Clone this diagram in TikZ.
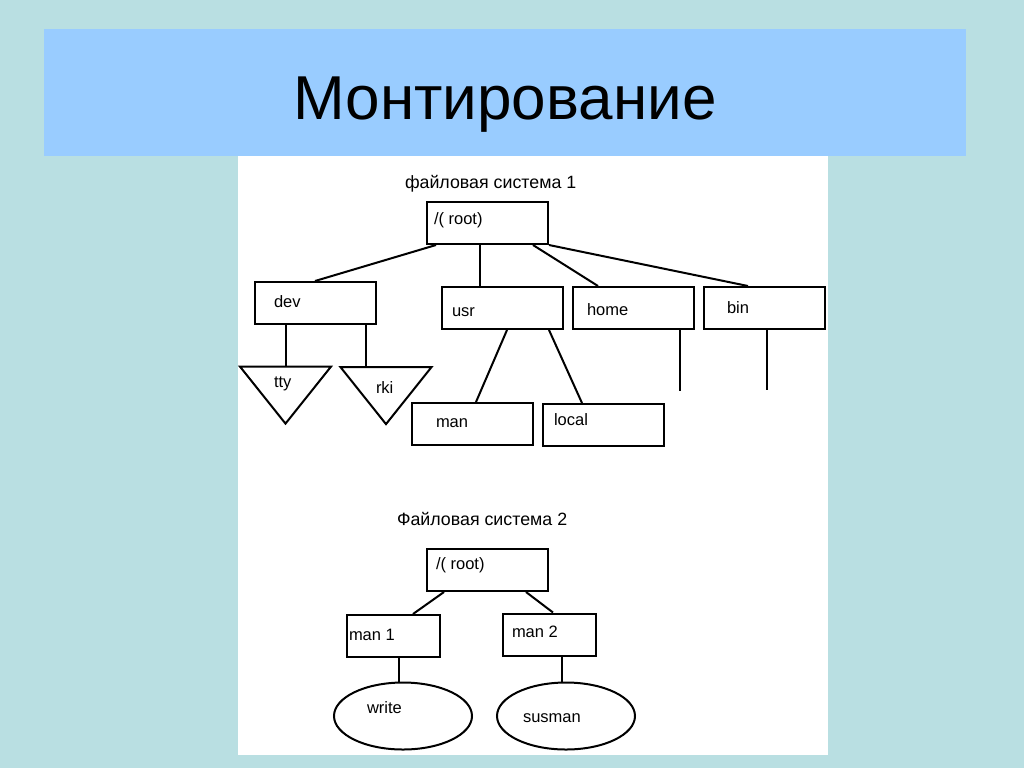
\documentclass[tikz,border=0pt]{standalone}
\usepackage{fontspec}
\setmainfont{Liberation Sans}
\usetikzlibrary{shapes.geometric}
\definecolor{slidebg}{HTML}{B9DFE2}
\definecolor{titleband}{HTML}{99CCFF}

\begin{document}
\begin{tikzpicture}[x=0.5pt, y=-0.5pt, line width=1pt,
		dirbox/.style={draw, rectangle, minimum width=60.5pt, minimum height=21pt, inner sep=0pt},
		smallbox/.style={dirbox, minimum width=46.5pt},
		leaf/.style={draw, isosceles triangle, isosceles triangle stretches, shape border rotate=-90,
			minimum width=45.5pt, minimum height=28.5pt, inner sep=0pt},
		file/.style={draw, ellipse, minimum width=69pt, minimum height=33.5pt, inner sep=0pt},
		tag/.style={anchor=base west, inner sep=0pt, font=\fontsize{8.25}{10}\selectfont},
		heading/.style={tag, font=\fontsize{8.9}{11}\selectfont}]
		% slide
		\fill[slidebg] (0,0) rectangle (1024,768);
		\fill[titleband] (44,29) rectangle (966,156);
		\fill[white] (238,156) rectangle (828,755);
		\node[anchor=base, inner sep=0pt, font=\fontsize{31}{36}\selectfont] (title) at (505,119) {Монтирование};
		% file system 1
		\node[heading] (fs1) at (404,188) {файловая система 1};
		\node[dirbox] (root1) at (487.5,223) {};
		\node[dirbox] (dev) at (315,303) {};
		\node[dirbox] (usr) at (502,308) {};
		\node[dirbox] (home) at (633.5,308) {};
		\node[dirbox] (bin) at (764,308) {};
		\node[leaf] (tty) at (285.5,388.5) {};
		\node[leaf] (rki) at (386,389) {};
		\node[dirbox] (man) at (472,424) {};
		\node[dirbox] (local) at (603.5,425) {};
		\coordinate (homeend) at (680,391);
		\coordinate (binend) at (767,390);
		\begin{scope}[every node/.style={tag}]
			\node at (433,224) {/( root)};
			\node at (273,307) {dev};
			\node at (451,316) {usr};
			\node at (586,315) {home};
			\node at (726,313) {bin};
			\node at (273,387) {tty};
			\node at (375,393) {rki};
			\node at (435,427) {man};
			\node at (553,425) {local};
		\end{scope}
		% file system 2
		\node[heading] (fs2) at (396,525) {Файловая система 2};
		\node[dirbox] (root2) at (487.5,570) {};
		\node[smallbox] (man1) at (393.5,636) {};
		\node[smallbox] (man2) at (549.5,634.5) {};
		\node[file] (write) at (403,716) {};
		\node[file] (susman) at (566,716) {};
		\begin{scope}[every node/.style={tag}]
			\node at (435,569) {/( root)};
			\node at (348,640) {man 1};
			\node at (511,637) {man 2};
			\node at (366,713) {write};
			\node at (522,722) {susman};
		\end{scope}
		% links
		\begin{scope}[every path/.style={line width=1pt}]
			\path ([xshift=5pt]root1.south west) edge (dev.north);
			\path ([xshift=-3.75pt]root1.south) edge ([xshift=-11pt]usr.north);
			\path ([xshift=22.75pt]root1.south) edge ([xshift=-17.75pt]home.north);
			\path (root1.south east) edge ([xshift=-8pt]bin.north);
			\path (tty.north |- dev.south) edge (tty.north);
			\path ([xshift=-10pt]rki.north |- dev.south) edge ([xshift=-10pt]rki.north);
			\path ([xshift=2.5pt]usr.south) edge ([xshift=2pt]man.north);
			\path ([xshift=23.5pt]usr.south) edge ([xshift=-10.75pt]local.north);
			\path (homeend |- home.south) edge (homeend);
			\path (binend |- bin.south) edge (binend);
			\path ([xshift=-21.75pt]root2.south) edge ([xshift=9.75pt]man1.north);
			\path ([xshift=19.25pt]root2.south) edge ([xshift=1.75pt]man2.north);
			\path ([xshift=2.75pt]man1.south) edge ([xshift=2.75pt]man1.south |- write.north);
			\path ([xshift=6.25pt]man2.south) edge ([xshift=6.25pt]man2.south |- susman.north);
		\end{scope}
	\end{tikzpicture}
\end{document}
